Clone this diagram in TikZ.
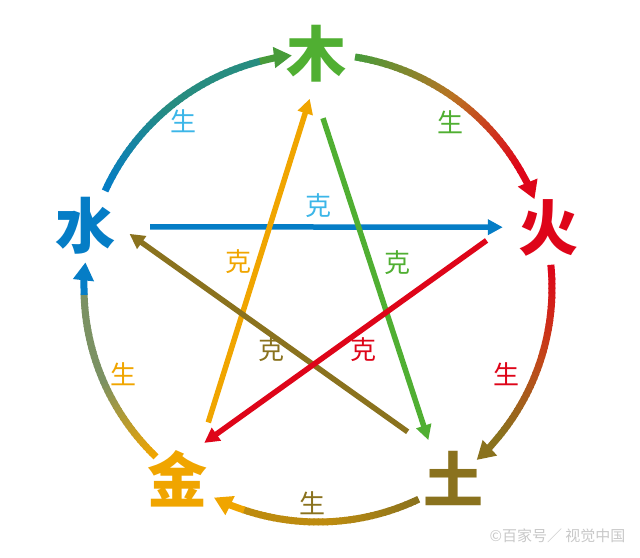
\documentclass[tikz,border=0pt]{standalone}
\usepackage{xcolor}
\usepackage{fontspec}
\newfontfamily\cjk{Noto Sans CJK SC}
\usepackage{tikz}
\usetikzlibrary{arrows.meta, positioning, calc}
\definecolor{wood}{RGB}{80,175,50}
\definecolor{woodarc}{RGB}{72,155,58}
\definecolor{fire}{RGB}{222,5,25}
\definecolor{earth}{RGB}{138,114,30}
\definecolor{metal}{RGB}{240,165,0}
\definecolor{water}{RGB}{5,125,198}
\definecolor{sky}{RGB}{60,182,232}
\definecolor{ochre}{RGB}{185,115,35}
\definecolor{rust}{RGB}{195,70,25}
\definecolor{markgray}{RGB}{200,200,200}
% gradient arc on the big circle: start angle, end angle, from, middle, to colour
\newcommand{\shengarc}[5]{%
  \foreach \i in {0,...,39} {
    \pgfmathsetmacro{\aa}{#1+(#2-#1-8)*\i/40}
    \pgfmathsetmacro{\bb}{#1+(#2-#1-8)*(\i+1.3)/40}
    \ifnum\i<20
      \pgfmathtruncatemacro{\pc}{100*\i/20}
      \draw[Arc, color=#4!\pc!#3] (o) ++(\aa:234) arc[start angle=\aa, end angle=\bb, radius=234];
    \else
      \pgfmathtruncatemacro{\pc}{100*(\i-20)/19}
      \draw[Arc, color=#5!\pc!#4] (o) ++(\aa:234) arc[start angle=\aa, end angle=\bb, radius=234];
    \fi
  }
  \draw[Arc, color=#5, -{Triangle[length=18pt, width=20pt]}] (o) ++(#2-8:234) arc[start angle=#2-8, end angle=#2, radius=234];
}

\begin{document}
\begin{tikzpicture}
  [
    x=1pt, y=-1pt,
    Elem/.style={circle, minimum size=90pt, inner sep=0pt, font=\cjk\bfseries\fontsize{60}{60}\selectfont},
    Lbl/.style={inner sep=0pt, font=\cjk\fontsize{26}{26}\selectfont},
    Ke/.style={line width=5.5pt, shorten <=20pt, -{Triangle[length=15pt, width=15pt]}},
    Arc/.style={line width=7pt}
  ]
  \useasboundingbox (0,0) rectangle (640,557);
  \coordinate (o) at (318,288);
  % Nodes
  \node[Elem, text=wood] (wood) at (316,54) {木};
  \node[Elem, text=fire] (fire) at (548,228) {火};
  \node[Elem, text=earth] (earth) at (453,478) {土};
  \node[Elem, text=metal] (metal) at (177,479) {金};
  \node[Elem, text=water] (water) at (85,226) {水};
  % Circle
  \shengarc{204.5}{263.6}{water}{woodarc!50!water}{woodarc}
  \shengarc{279.1}{337.7}{woodarc}{ochre}{fire}
  \shengarc{354.3}{407.3}{fire}{rust}{earth}
  \shengarc{64.5}{116.4}{earth}{metal!50!earth}{metal}
  \shengarc{133.8}{186.3}{metal}{water!50!metal}{water}
  \node[Lbl, text=sky] (s-water) at (183,121) {生};
  \node[Lbl, text=wood] (s-wood) at (450,122) {生};
  \node[Lbl, text=fire] (s-fire) at (506,374) {生};
  \node[Lbl, text=earth] (s-earth) at (312,503) {生};
  \node[Lbl, text=metal] (s-metal) at (123,374) {生};
  % Lines
  \path [Ke, draw=water] (water.-1) -- (fire.179);
  \path [Ke, draw=metal] (metal.56) -- (wood.262);
  \path [Ke, draw=wood] (wood.271) -- (earth.123);
  \path [Ke, draw=earth] (earth.130) -- (water.-10);
  \path [Ke, draw=fire] (fire.181) -- (metal.53);
  \node[Lbl, text=sky] (k-water) at (318,206) {克};
  \node[Lbl, text=metal] (k-metal) at (238,262) {克};
  \node[Lbl, text=wood] (k-wood) at (397,263) {克};
  \node[Lbl, text=earth] (k-earth) at (271,350) {克};
  \node[Lbl, text=fire] (k-fire) at (363,350) {克};
  \node[anchor=east, text=markgray, font=\cjk\fontsize{15}{15}\selectfont] (mark) at (629,536) {©百家号／ 视觉中国};
\end{tikzpicture}
\end{document}
